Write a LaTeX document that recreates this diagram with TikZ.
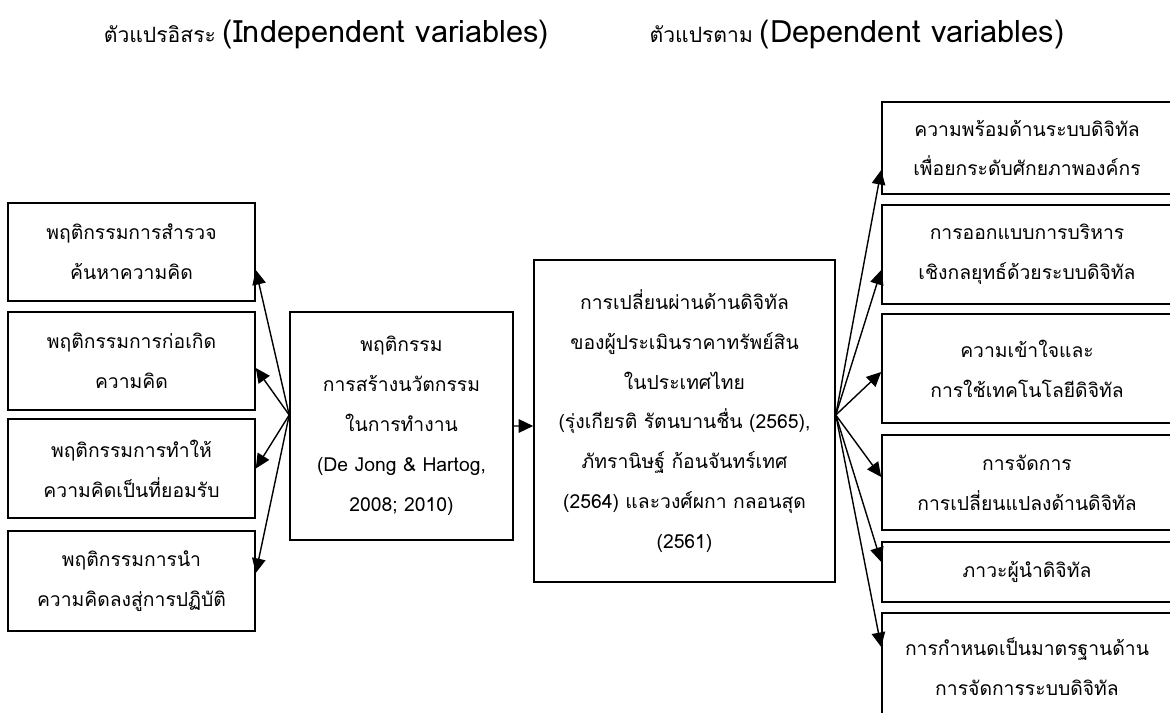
\documentclass[tikz,border=0pt]{standalone}
\usepackage{fontspec}
\setmainfont[Script=Thai]{Loma}
\usetikzlibrary{arrows.meta}
\newcommand{\boxfont}{\fontsize{11pt}{22.7pt}\selectfont}
\newcommand{\titlefont}{\fontsize{12pt}{20pt}\selectfont}
\newcommand{\latinbig}{\fontsize{17.5pt}{20pt}\selectfont}
\tikzset{
  box/.style={rectangle,draw=black,line width=0.9pt,align=center,inner sep=1pt,font=\boxfont},
  link/.style={-{Triangle[length=2.9mm,width=2.7mm]},line width=0.8pt}
}

\begin{document}
\begin{tikzpicture}
% \draw[help lines] (0,0) grid (23,-14);
\useasboundingbox (0,0) rectangle (23.4,-14.26);
\node (indep) [font=\titlefont] at (6.53,-0.7) {ตัวแปรอิสระ {\latinbig (Independent variables)}};
\node (dep) [font=\titlefont] at (17.14,-0.7) {ตัวแปรตาม {\latinbig (Dependent variables)}};
%
\node (explore) [box,minimum width=4.94cm,minimum height=1.96cm] at (2.63,-5.04) {พฤติกรรมการสำรวจ\\ค้นหาความคิด};
\node (generate) [box,minimum width=4.94cm,minimum height=1.96cm] at (2.63,-7.22) {พฤติกรรมการก่อเกิด\\ความคิด};
\node (champion) [box,minimum width=4.94cm,minimum height=1.98cm] at (2.63,-9.37) {พฤติกรรมการทำให้\\ความคิดเป็นที่ยอมรับ};
\node (implement) [box,minimum width=4.94cm,minimum height=2.0cm] at (2.63,-11.62) {พฤติกรรมการนำ\\ความคิดลงสู่การปฏิบัติ};
%
\node (iwb) [box,minimum width=4.46cm,minimum height=4.56cm] at (8.03,-8.52) {พฤติกรรม\\การสร้างนวัตกรรม\\ในการทำงาน\\(De Jong \& Hartog,\\2008; 2010)};
\node (dtrans) [box,minimum width=6.02cm,minimum height=6.44cm] at (13.69,-8.42) {การเปลี่ยนผ่านด้านดิจิทัล\\ของผู้ประเมินราคาทรัพย์สิน\\ในประเทศไทย\\(รุ่งเกียรติ รัตนบานชื่น (2565),\\ภัทรานิษฐ์ ก้อนจันทร์เทศ\\(2564) และวงศ์ผกา กลอนสุด\\(2561)};
%
\node (ready) [box,minimum width=5.8cm,minimum height=1.84cm] at (20.54,-2.96) {ความพร้อมด้านระบบดิจิทัล\\เพื่อยกระดับศักยภาพองค์กร};
\node (design) [box,minimum width=5.8cm,minimum height=1.98cm] at (20.54,-5.09) {การออกแบบการบริหาร\\เชิงกลยุทธ์ด้วยระบบดิจิทัล};
\node (techuse) [box,minimum width=5.8cm,minimum height=2.18cm] at (20.54,-7.37) {ความเข้าใจและ\\การใช้เทคโนโลยีดิจิทัล};
\node (change) [box,minimum width=5.8cm,minimum height=1.9cm] at (20.54,-9.65) {การจัดการ\\การเปลี่ยนแปลงด้านดิจิทัล};
\node (leader) [box,minimum width=5.8cm,minimum height=1.2cm] at (20.54,-11.44) {ภาวะผู้นำดิจิทัล};
\node (standard) [box,minimum width=5.8cm,minimum height=2.14cm] at (20.54,-13.33) {การกำหนดเป็นมาตรฐานด้าน\\การจัดการระบบดิจิทัล};
%
\path[link]([yshift=0.22cm]iwb.west) edge ([yshift=-0.36cm]explore.east);
\path[link]([yshift=0.22cm]iwb.west) edge ([yshift=-0.14cm]generate.east);
\path[link]([yshift=0.22cm]iwb.west) edge (champion.east);
\path[link]([yshift=0.22cm]iwb.west) edge ([yshift=0.16cm]implement.east);
\path[link](iwb.east) edge ([yshift=-0.1cm]dtrans.west);
%
\path[link]([yshift=0.12cm]dtrans.east) edge ([yshift=-0.44cm]ready.west);
\path[link]([yshift=0.12cm]dtrans.east) edge ([yshift=-0.31cm]design.west);
\path[link]([yshift=0.12cm]dtrans.east) edge ([yshift=-0.07cm]techuse.west);
\path[link]([yshift=0.12cm]dtrans.east) edge ([yshift=0.11cm]change.west);
\path[link]([yshift=0.12cm]dtrans.east) edge ([yshift=0.2cm]leader.west);
\path[link]([yshift=0.12cm]dtrans.east) edge ([yshift=0.39cm]standard.west);
\end{tikzpicture}
\end{document}
